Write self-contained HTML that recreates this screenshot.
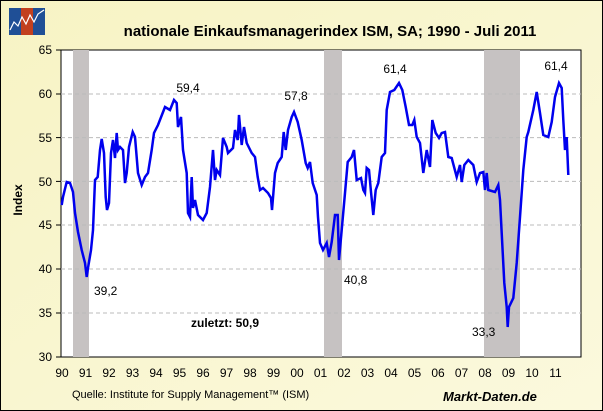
<!DOCTYPE html>
<html><head><meta charset="utf-8"><style>
body{margin:0;background:#fff}
svg{display:block;font-family:"Liberation Sans",sans-serif}
</style></head><body>
<svg width="603" height="411" viewBox="0 0 603 411" xmlns="http://www.w3.org/2000/svg">
<defs><linearGradient id="bg" x1="0" y1="0" x2="1" y2="1"><stop offset="0" stop-color="#f7f3c4"/><stop offset="1" stop-color="#fbf9dd"/></linearGradient></defs>
<rect x="0.5" y="0.5" width="602" height="410" fill="url(#bg)" stroke="#000"/>
<rect x="9" y="8" width="12" height="27" fill="#1f4f96"/><rect x="21" y="8" width="12" height="27" fill="#c2401f"/><rect x="33" y="8" width="12" height="27" fill="#1f4f96"/>
<polyline points="10,30 14,22 18,26 22,17 26,24 30,15 34,22 38,14 44,10" fill="none" stroke="#fff" stroke-width="1.2"/>
<text x="330" y="36" font-size="15" font-weight="bold" text-anchor="middle">nationale Einkaufsmanagerindex ISM, SA; 1990 - Juli 2011</text>
<rect x="61" y="50" width="520" height="307" fill="#fff" stroke="#000"/>
<g fill="#c6c2c2"><rect x="73" y="50" width="16" height="307"/><rect x="324" y="50" width="18" height="307"/><rect x="484" y="50" width="36" height="307"/></g>
<g stroke="#bbb" stroke-dasharray="4,3"><line x1="61" x2="581" y1="94" y2="94"/><line x1="61" x2="581" y1="137.6" y2="137.6"/><line x1="61" x2="581" y1="181.4" y2="181.4"/><line x1="61" x2="581" y1="225" y2="225"/><line x1="61" x2="581" y1="269" y2="269"/><line x1="61" x2="581" y1="313" y2="313"/></g>
<g font-size="12" text-anchor="end"><text x="52" y="54">65</text><text x="52" y="98">60</text><text x="52" y="142">55</text><text x="52" y="186">50</text><text x="52" y="229">45</text><text x="52" y="273">40</text><text x="52" y="317">35</text><text x="52" y="361">30</text></g>
<g stroke="#000"><line x1="56" x2="61" y1="50" y2="50"/><line x1="56" x2="61" y1="94" y2="94"/><line x1="56" x2="61" y1="137.6" y2="137.6"/><line x1="56" x2="61" y1="181.4" y2="181.4"/><line x1="56" x2="61" y1="225" y2="225"/><line x1="56" x2="61" y1="269" y2="269"/><line x1="56" x2="61" y1="313" y2="313"/><line x1="56" x2="61" y1="357" y2="357"/></g>
<text transform="translate(22,200) rotate(-90)" font-size="12" font-weight="bold" text-anchor="middle">Index</text>
<g font-size="12" text-anchor="middle"><text x="62" y="377">90</text><text x="85.5" y="377">91</text><text x="109" y="377">92</text><text x="132.5" y="377">93</text><text x="156" y="377">94</text><text x="179.5" y="377">95</text><text x="203" y="377">96</text><text x="226.5" y="377">97</text><text x="250" y="377">98</text><text x="273.5" y="377">99</text><text x="297" y="377">00</text><text x="320.5" y="377">01</text><text x="344" y="377">02</text><text x="367.5" y="377">03</text><text x="391" y="377">04</text><text x="414.5" y="377">05</text><text x="438" y="377">06</text><text x="461.5" y="377">07</text><text x="485" y="377">08</text><text x="508.5" y="377">09</text><text x="532" y="377">10</text><text x="555.5" y="377">11</text></g>
<polyline fill="none" stroke="#0000ee" stroke-width="2.5" points="61.7,205 63,197 66.7,182 70,183 73,192 75,213 78,232 81.7,250 85,263 86.7,277 88,268 91,250 93,230 95,180 97.7,177 100,150 101.7,139 104,153 105.7,197 107,210 109,203 111,153 113,140 115,158 116.7,133 118,150 120,147 123,150 125,183 126.7,173 129,147 132.7,132 135,137 138,173 141.7,185 145,177 148,173 151.7,150 154,133 158,125 165,107 170,110 174,100 176.7,103 178,127 181,117 183,150 186.7,173 188,213 190,217 191.7,177 193,208 195,200 198,215 203,220 206.7,213 210,187 213,150 215,180 216.7,170 220,175 223,138 226.7,147 228,153 233,148 235,130 237.7,140 239,115 241.7,145 244,127 246.7,143 251.7,153 255,157 257.7,177 260,190 263,188 268,193 271,198 272,210 275,173 277.7,163 281.7,157 283.7,132 285.7,150 288,130 291.7,117 294,112 297.7,122 301.7,140 305.7,163 307.7,168 310,162 312.7,183 316.7,195 318,217 320,243 323,250 326.7,243 329,257 331.7,242 335,215 337.7,215 339,260 341.7,230 345,193 347.7,162 351.7,157 354,150 356.7,180 361,178 363.3,190 365,193 366.7,168 369,170 371,192 373.3,215 375.7,190 378.3,183 381.7,157 385,153 386.7,110 390,92 394.3,90 399,83 402.3,90 405.7,107 409,125 412.3,125 414.3,120 416.7,137 420,143 423.3,173 426.7,150 430,167 432.3,120 435.7,133 439,138 441.7,133 445,132 448.3,157 451.7,158 456.7,177 460,165 461.7,182 464.3,165 468.3,160 473.3,165 476.7,182 480,173 483.3,172 485,190 486.7,173 488.3,190 495,192 498.3,185 500,200 501.7,233 504.3,283 506.7,307 507.7,327 509,307 513.3,298 516.7,263 520,217 523.3,170 526.7,137 528.3,132 533.3,110 536.7,92 540,113 543.3,135 548.3,137 551.7,122 555,97 559,83 561.7,88 563.3,120 565,150 566.7,137 568.3,175"/>
<g font-size="12"><text x="94" y="295">39,2</text><text x="188" y="92" text-anchor="middle">59,4</text><text x="296" y="100" text-anchor="middle">57,8</text><text x="395" y="73" text-anchor="middle">61,4</text><text x="344" y="284">40,8</text><text x="472" y="336">33,3</text><text x="556" y="70" text-anchor="middle">61,4</text></g>
<text x="191" y="327" font-size="12" font-weight="bold">zuletzt: 50,9</text>
<text x="72" y="398" font-size="11">Quelle: Institute for Supply Management™ (ISM)</text>
<text x="443" y="401" font-size="13" font-weight="bold" font-style="italic">Markt-Daten.de</text>
</svg>
</body></html>
